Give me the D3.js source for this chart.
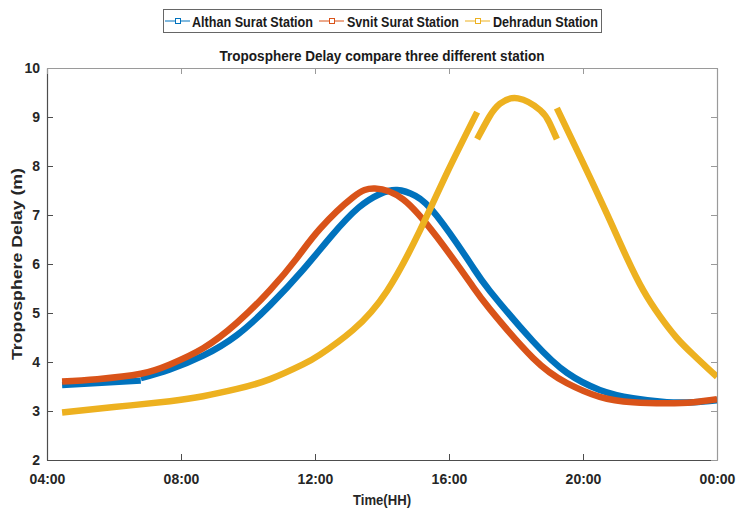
<!DOCTYPE html>
<html><head><meta charset="utf-8">
<script src="https://cdn.jsdelivr.net/npm/d3@7"></script>
<style>body{margin:0;background:#fff}svg{display:block}</style>
</head><body><svg id="c" width="736" height="513"></svg>
<script>
// ---- data ----
const seriesNames = ["Althan Surat Station", "Svnit Surat Station", "Dehradun Station"];
const seriesColors = ["#0072BD", "#D95319", "#EDB120"];
const xTickHours = [4, 8, 12, 16, 20, 24];
const xTickLabels = ["04:00", "08:00", "12:00", "16:00", "20:00", "00:00"];
const yTicks = [2, 3, 4, 5, 6, 7, 8, 9, 10];

const althanHoursA = [4.45, 5.5, 6.8];
const althanValuesA = [3.53, 3.57, 3.62];
const althanHoursB = [6.8, 7.67, 8.66, 9.67, 10.66, 11.64, 12.5, 13.3, 13.94, 14.45, 15.0, 15.64, 16.63, 17.22, 18.51, 19.52, 20.5, 21.49, 22.5, 23.3, 24];
const althanValuesB = [3.67, 3.85, 4.13, 4.55, 5.16, 5.88, 6.58, 7.15, 7.43, 7.51, 7.39, 6.98, 6.02, 5.45, 4.42, 3.78, 3.43, 3.26, 3.18, 3.18, 3.22];

const svnitHours = [4.45, 5.5, 6.8, 7.67, 8.66, 9.67, 10.66, 11.46, 12.15, 13.13, 13.79, 14.63, 15.64, 16.63, 17.22, 18.51, 19.52, 20.5, 21.49, 22.5, 23.3, 24];
const svnitValues = [3.60, 3.65, 3.76, 3.95, 4.28, 4.80, 5.47, 6.12, 6.72, 7.36, 7.54, 7.32, 6.55, 5.62, 5.08, 4.08, 3.57, 3.29, 3.18, 3.16, 3.18, 3.24];

const dehraHours1 = [4.45, 6.0, 7.67, 8.66, 9.67, 10.66, 11.64, 12.15, 13.13, 14.15, 15.13, 15.94, 16.84];
const dehraValues1 = [2.97, 3.08, 3.20, 3.30, 3.45, 3.65, 3.95, 4.15, 4.65, 5.45, 6.68, 7.86, 9.10];
const dehraHours2 = [16.84, 17.2, 17.52, 18.06, 18.72, 19.0, 19.22];
const dehraValues2 = [8.55, 9.00, 9.27, 9.38, 9.14, 8.88, 8.55];
const dehraHours3 = [19.22, 19.81, 20.31, 20.81, 21.3, 21.8, 22.3, 22.8, 23.29, 23.79, 24];
const dehraValues3 = [9.18, 8.34, 7.62, 6.88, 6.14, 5.46, 4.93, 4.49, 4.15, 3.83, 3.70];

const zip = (hs, vs) => hs.map((h, i) => ({h: h, v: vs[i]}));
const series = [
  {name: seriesNames[0], color: seriesColors[0], segs: [zip(althanHoursA, althanValuesA), zip(althanHoursB, althanValuesB)]},
  {name: seriesNames[1], color: seriesColors[1], segs: [zip(svnitHours, svnitValues)]},
  {name: seriesNames[2], color: seriesColors[2], segs: [zip(dehraHours1, dehraValues1), zip(dehraHours2, dehraValues2), zip(dehraHours3, dehraValues3)]}
];

// ---- layout ----
const L = 47, R = 717, T = 68, B = 460;
const FONT = "'Liberation Sans Narrow','Arial Narrow','Liberation Sans',Arial,sans-serif";
const svg = d3.select("#c");
const x = d3.scaleLinear().domain([4, 24]).range([L, R]);
const y = d3.scaleLinear().domain([2, 10]).range([B, T]);

svg.append("defs").append("clipPath").attr("id", "clip")
  .append("rect").attr("x", L).attr("y", T).attr("width", R - L).attr("height", B - T);

// axes
const axColor = "#4d4d4d";
const gL = svg.append("g").attr("transform", `translate(${L},0)`)
  .call(d3.axisLeft(y).tickValues(yTicks).tickSizeInner(-6).tickSizeOuter(0).tickPadding(7).tickFormat(d3.format("d")));
const gB = svg.append("g").attr("transform", `translate(0,${B})`)
  .call(d3.axisBottom(x).tickValues(xTickHours).tickSizeInner(-6).tickSizeOuter(0).tickPadding(14)
    .tickFormat((d, i) => xTickLabels[i]));
const gR = svg.append("g").attr("transform", `translate(${R},0)`)
  .call(d3.axisRight(y).tickValues(yTicks).tickSizeInner(-6).tickSizeOuter(0).tickFormat(""));
const gT = svg.append("g").attr("transform", `translate(0,${T})`)
  .call(d3.axisTop(x).tickValues(xTickHours).tickSizeInner(-6).tickSizeOuter(0).tickFormat(""));
[gL, gB].forEach(g => {
  g.select(".domain").attr("stroke", axColor).attr("stroke-width", 1.2);
  g.selectAll(".tick line").attr("stroke", axColor);
  g.selectAll("text").attr("fill", "#262626").style("font-family", FONT).style("font-weight", "bold").style("font-size", "14px");
});
[gR, gT].forEach(g => {
  g.select(".domain").attr("stroke", "#9a9a9a").attr("stroke-width", 1.2);
  g.selectAll(".tick line").attr("stroke", "#9a9a9a");
});

// lines
const line = d3.line().x(d => x(d.h)).y(d => y(d.v)).curve(d3.curveNatural);
const gLines = svg.append("g").attr("clip-path", "url(#clip)");
series.forEach(s => {
  s.segs.forEach(seg => {
    gLines.append("path").datum(seg).attr("d", line)
      .attr("fill", "none").attr("stroke", s.color).attr("stroke-width", 6.5)
      .attr("stroke-linejoin", "round").attr("stroke-linecap", "butt");
  });
});

// title & labels
svg.append("text").attr("x", 382).attr("y", 61).attr("text-anchor", "middle")
  .attr("textLength", 325).attr("lengthAdjust", "spacingAndGlyphs")
  .style("font-family", FONT).style("font-weight", "bold").style("font-size", "15px").attr("fill", "#1a1a1a")
  .text("Troposphere Delay compare three different station");
svg.append("text").attr("x", 382).attr("y", 505).attr("text-anchor", "middle")
  .attr("textLength", 58).attr("lengthAdjust", "spacingAndGlyphs")
  .style("font-family", FONT).style("font-weight", "bold").style("font-size", "14px").attr("fill", "#262626")
  .text("Time(HH)");
svg.append("text").attr("transform", `translate(22,${(T + B) / 2}) rotate(-90)`).attr("text-anchor", "middle")
  .attr("textLength", 192).attr("lengthAdjust", "spacingAndGlyphs")
  .style("font-family", "'Liberation Sans',Arial,sans-serif").style("font-weight", "bold").style("font-size", "14px").attr("fill", "#262626")
  .text("Troposphere Delay (m)");

// legend
const lg = svg.append("g");
lg.append("rect").attr("x", 163.5).attr("y", 9.5).attr("width", 438).attr("height", 23)
  .attr("fill", "#fff").attr("stroke", "#666").attr("stroke-width", 1);
const legendLineX = [165, 319, 465];
const legendTextX = [192, 347, 493];
const legendTextW = [121, 112, 105];
series.forEach((s, i) => {
  lg.append("line").attr("x1", legendLineX[i]).attr("x2", legendLineX[i] + 25).attr("y1", 21).attr("y2", 21)
    .attr("stroke", s.color).attr("stroke-width", 1);
  lg.append("rect").attr("x", legendLineX[i] + 10.5).attr("y", 18.5).attr("width", 5).attr("height", 5)
    .attr("fill", "#fff").attr("stroke", s.color).attr("stroke-width", 1);
  lg.append("text").attr("x", legendTextX[i]).attr("y", 26.5)
    .attr("textLength", legendTextW[i]).attr("lengthAdjust", "spacingAndGlyphs")
    .style("font-family", FONT).style("font-weight", "bold").style("font-size", "14px").attr("fill", "#1a1a1a")
    .text(s.name);
});
</script>
</body></html>
